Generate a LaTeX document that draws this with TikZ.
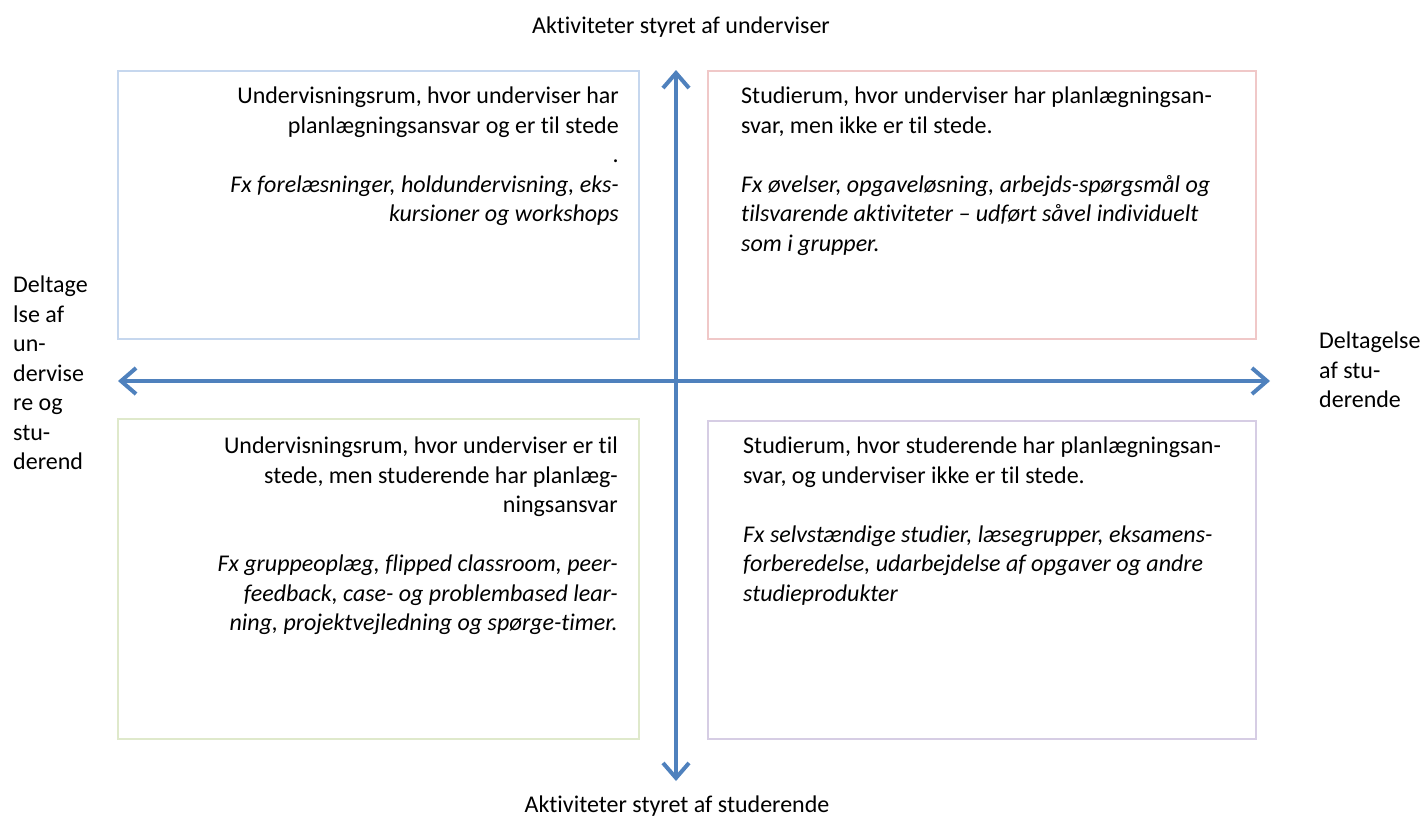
\documentclass[tikz,border=0pt]{standalone}
\usepackage{fontspec}
\setmainfont{Carlito}[Ligatures=NoCommon]
\usetikzlibrary{arrows.meta}
\definecolor{axisblue}{HTML}{4F81BD}
\definecolor{boxblue}{HTML}{C6D7EE}
\definecolor{boxred}{HTML}{F0C8C8}
\definecolor{boxgreen}{HTML}{DFE9CB}
\definecolor{boxpurple}{HTML}{D6CDE4}
\tikzset{every node/.style={inner sep=0pt,font=\fontsize{24}{29.5}\selectfont}}
\tikzset{quad/.style={rectangle,line width=2pt,fill=white}}
\tikzset{axis/.style={axisblue,line width=4pt,{Straight Barb[length=15pt,width=26pt]}-{Straight Barb[length=15pt,width=26pt]}}}

\begin{document}
\begin{tikzpicture}[x=1pt,y=-1pt]
      \useasboundingbox (0,0) rectangle (1423,820);
      \node[quad,draw=boxblue,minimum width=521,minimum height=268] (ul) at (378.5,205) {};
      \node[quad,draw=boxred,minimum width=548,minimum height=268] (ur) at (982,205) {};
      \node[quad,draw=boxgreen,minimum width=521,minimum height=320] (ll) at (378.5,579) {};
      \node[quad,draw=boxpurple,minimum width=548,minimum height=318] (lr) at (982,580) {};
      \node[align=right,anchor=north east] (ultext) at (619,87)
        {Undervisningsrum, hvor underviser har\\planlægningsansvar og er til stede\\.\\
         \textit{Fx forelæsninger, holdundervisning, eks-}\\\textit{kursioner og workshops}};
      \node[align=left,anchor=north west] (urtext) at (741,87)
        {Studierum, hvor underviser har planlægningsan-\\svar, men ikke er til stede.\\[29.5pt]
         \textit{Fx øvelser, opgaveløsning, arbejds-spørgsmål og}\\
         \textit{tilsvarende aktiviteter – udført såvel individuelt}\\\textit{som i grupper.}};
      \node[align=right,anchor=north east] (lltext) at (618,437)
        {Undervisningsrum, hvor underviser er til\\stede, men studerende har planlæg-\\ningsansvar\\[29.5pt]
         \textit{Fx gruppeoplæg, flipped classroom, peer-}\\
         \textit{feedback, case- og problembased lear-}\\
         \textit{ning, projektvejledning og spørge-timer.}};
      \node[align=left,anchor=north west] (lrtext) at (743,437)
        {Studierum, hvor studerende har planlægningsan-\\svar, og underviser ikke er til stede.\\[29.5pt]
         \textit{Fx selvstændige studier, læsegrupper, eksamens-}\\
         \textit{forberedelse, udarbejdelse af opgaver og andre}\\\textit{studieprodukter}};
      \coordinate (top) at (676,70);
      \coordinate (bottom) at (676,781);
      \coordinate (left) at (118,381);
      \coordinate (right) at (1270,381);
      \draw[axis] (bottom) -- (top);
      \draw[axis] (left) -- (right);
      \node[anchor=base] (toplabel) at (681,33) {Aktiviteter styret af underviser};
      \node[anchor=base] (bottomlabel) at (677,812) {Aktiviteter styret af studerende};
      \node[align=left,anchor=north west] (leftlabel) at (13,276)
        {Deltage\\lse af\\un-\\dervise\\re og\\stu-\\derend};
      \node[align=left,anchor=north west] (rightlabel) at (1319,332)
        {Deltagelse\\af stu-\\derende};
    \end{tikzpicture}
\end{document}
